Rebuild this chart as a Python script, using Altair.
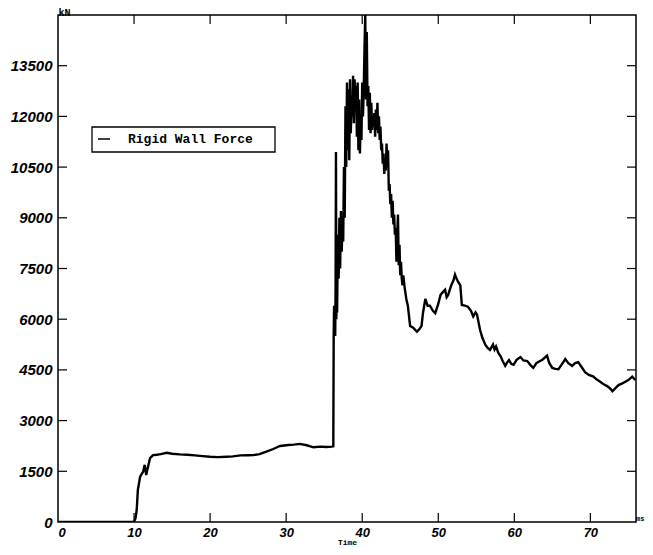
import altair as alt
import pandas as pd

# ---- data ----
time_ms = [
    0, 10.0, 10.2, 10.35, 10.5, 10.8, 11.0, 11.2, 11.4, 11.5, 11.6, 11.7, 11.8, 12.1, 12.5, 13.0, 13.5, 14.3,
    15, 16, 17, 18, 19, 20, 21, 22.2, 23, 24, 25, 25.7, 26.5, 27.4, 28.3, 29.2, 30.3, 31, 31.8, 32.7, 33.6,
    34.5, 35.3, 36.0, 36.2,
    36.25, 36.3, 36.35, 36.4, 36.45, 36.5, 36.55, 36.6, 36.65, 36.7, 36.8, 36.9, 37.0, 37.1, 37.2, 37.3,
    37.4, 37.5, 37.6, 37.7, 37.8, 37.9, 38.0, 38.1, 38.2, 38.3, 38.4, 38.5, 38.6, 38.7, 38.8, 38.9, 39.0,
    39.1, 39.2, 39.3, 39.4, 39.5, 39.6, 39.7, 39.8, 39.9, 40.0, 40.1, 40.2, 40.3, 40.4, 40.5, 40.6, 40.7,
    40.8, 40.9, 41.0, 41.1, 41.2, 41.3, 41.4, 41.5, 41.6, 41.7, 41.8, 41.9, 42.0, 42.1, 42.2, 42.3, 42.4,
    42.5, 42.6, 42.7, 42.8, 42.9, 43.0, 43.1, 43.2, 43.3, 43.4, 43.5, 43.6, 43.7, 43.8, 43.9, 44.0, 44.1,
    44.2, 44.3, 44.4, 44.5, 44.6, 44.7, 44.8, 44.9, 45.0, 45.1, 45.2, 45.3, 45.4, 45.6, 45.8, 46.0,
    46.3, 46.7, 47.2, 47.5, 47.8, 48.0, 48.3, 48.6, 48.9, 49.3, 49.6, 50.0, 50.3, 50.6, 50.9, 51.1, 51.3,
    51.7, 52.0, 52.2, 52.4, 52.6, 52.9, 53.1, 53.5, 53.9, 54.3, 54.6, 54.9, 55.1, 55.3, 55.5, 55.8, 56.2,
    56.5, 56.8, 57.2, 57.4, 57.6, 57.9, 58.2, 58.5, 58.8, 59.0, 59.3, 59.6, 59.9, 60.3, 60.8, 61.2, 61.7,
    62.1, 62.5, 62.9, 63.2, 63.7, 64.3, 64.6, 65.0, 65.4, 65.8, 66.2, 66.7, 67.1, 67.6, 68.0, 68.4, 68.8,
    69.3, 69.8, 70.4, 70.8, 71.3, 71.7, 72.2, 72.6, 72.9, 73.3, 73.7, 74.2, 74.6, 75.0, 75.5, 75.9,
]
force_kn = [
    0, 0, 120, 355, 950, 1340, 1420, 1490, 1690, 1550, 1390, 1500, 1600, 1890, 1980, 1990, 2010, 2050,
    2020, 2000, 1990, 1970, 1950, 1930, 1920, 1930, 1940, 1970, 1975, 1980, 2010, 2080, 2160, 2250, 2280, 2290, 2310, 2270, 2210,
    2230, 2220, 2230, 2240,
    5500, 6400, 5600, 6300, 5500, 7000, 10950, 6000, 8000, 6200, 8500, 7200, 9000, 7500, 9200, 8000,
    8700, 8300, 10500, 9000, 12300, 10500, 13000, 11000, 12800, 10700, 13100, 11500, 12600, 12000, 13200, 11800, 13100,
    12200, 12900, 11400, 13000, 11000, 12500, 10900, 12000, 11300, 13000, 12000, 12800, 14000, 15000, 12500, 14500, 12300,
    12900, 11600, 12700, 11500, 12400, 11600, 12000, 11800, 12100, 11400, 12200, 11600, 12400, 11500, 12000, 11300, 11700,
    11000, 11200, 10600, 10900, 10300, 10600, 10400, 11200, 10500, 11000, 9800, 10000, 9400, 9700, 9000, 9500, 8800,
    9100, 8500, 8700, 7700, 8500, 9100, 7600, 8200, 7300, 7700, 7200, 7000, 7300, 6900, 6600, 6400,
    5800, 5750, 5630, 5700, 5800, 6200, 6600, 6400, 6400, 6250, 6180, 6450, 6720, 6800, 6870, 6650, 6720,
    7000, 7150, 7320, 7200, 7110, 7000, 6420, 6400, 6370, 6250, 6080, 6200, 6130, 5900, 5680, 5450, 5240,
    5150, 5090, 5250, 5100, 5190, 5000, 4900, 4750, 4620, 4700, 4790, 4680, 4650, 4800, 4880, 4780, 4760,
    4650, 4560, 4700, 4740, 4800, 4920, 4700, 4560, 4530, 4520, 4650, 4820, 4700, 4620, 4700, 4730, 4600,
    4430, 4350, 4300, 4220, 4150, 4080, 4020, 3950, 3870, 3960, 4050, 4100, 4150, 4200, 4300, 4200,
]
series_name = "Rigid Wall Force"
x_ticks = [10, 20, 30, 40, 50, 60, 70]
y_ticks = [1500, 3000, 4500, 6000, 7500, 9000, 10500, 12000, 13500]
y_labels = [0, 1500, 3000, 4500, 6000, 7500, 9000, 10500, 12000, 13500]

df = pd.DataFrame({"t": time_ms, "f": force_kn, "s": series_name})
xt = pd.DataFrame({"t": x_ticks})
yt = pd.DataFrame({"f": y_ticks})

W, H = 578, 507
TICK = 9
LABEL_FONT = "Liberation Sans"

xscale = alt.Scale(domain=[0, 76], nice=False, zero=False)
yscale = alt.Scale(domain=[0, 15000], nice=False)

# legend frame (drawn beneath the legend entry)
legend_box = alt.Chart(pd.DataFrame({"k": [series_name]})).mark_rect(
    fill="white", stroke="black", strokeWidth=1.3).encode(
    x=alt.value(34), x2=alt.value(217), y=alt.value(112), y2=alt.value(137))

line = alt.Chart(df).mark_line(color="black", strokeWidth=2.4, clip=True).encode(
    x=alt.X("t:Q", scale=xscale,
            axis=alt.Axis(values=[0] + x_ticks, title="Time", format="d", ticks=False, domain=False,
                          grid=False, labelPadding=4, labelFont=LABEL_FONT, labelFontSize=13,
                          labelFontStyle="italic", labelFontWeight="bold", labelColor="black",
                          titleFont="Liberation Mono", titleFontSize=8, titleFontWeight="bold",
                          titleColor="black", titleBaseline="alphabetic", titleY=22)),
    y=alt.Y("f:Q", scale=yscale,
            axis=alt.Axis(values=y_labels, title="kN", format="d", ticks=False, domain=False,
                          grid=False, labelPadding=6, labelFont=LABEL_FONT, labelFontSize=15,
                          labelFontStyle="italic", labelFontWeight="bold", labelColor="black",
                          titleAngle=0, titleAlign="left", titleBaseline="alphabetic", titleX=0, titleY=0,
                          titleFont="Liberation Mono", titleFontSize=10, titleFontWeight="bold",
                          titleColor="black")),
    color=alt.Color("s:N", scale=alt.Scale(range=["black"]),
                    legend=alt.Legend(title=None, orient="none", legendX=34, legendY=112,
                                      symbolType="stroke", symbolSize=144, symbolStrokeWidth=1.5,
                                      labelOffset=17, padding=5, labelFont="Liberation Mono",
                                      labelFontSize=13, labelFontWeight="bold", labelColor="black")),
)

bottom_ticks = alt.Chart(xt).mark_rule(color="black", strokeWidth=1.2).encode(
    x=alt.X("t:Q", scale=xscale), y=alt.value(H), y2=alt.value(H - TICK))
top_ticks = alt.Chart(xt).mark_rule(color="black", strokeWidth=1.2).encode(
    x=alt.X("t:Q", scale=xscale), y=alt.value(0), y2=alt.value(TICK))
left_ticks = alt.Chart(yt).mark_rule(color="black", strokeWidth=1.2).encode(
    y=alt.Y("f:Q", scale=yscale), x=alt.value(0), x2=alt.value(TICK))
right_ticks = alt.Chart(yt).mark_rule(color="black", strokeWidth=1.2).encode(
    y=alt.Y("f:Q", scale=yscale), x=alt.value(W - TICK), x2=alt.value(W))

ms_label = alt.Chart(pd.DataFrame({"u": ["ms"]})).mark_text(
    font="Liberation Mono", fontSize=7, fontWeight="bold", color="black",
    align="right", baseline="middle").encode(
    text="u:N", x=alt.value(W + 8.5), y=alt.value(H - 3))

chart = alt.layer(legend_box, line, bottom_ticks, top_ticks, left_ticks, right_ticks, ms_label).properties(
    width=W, height=H,
    autosize=alt.AutoSizeParams(type="none"),
    padding={"left": 50, "top": 7, "right": 9, "bottom": 25},
    background="white",
).configure_view(stroke="black", strokeWidth=1.5)

chart.save("out.html", embed_options={"renderer": "svg", "actions": False})
